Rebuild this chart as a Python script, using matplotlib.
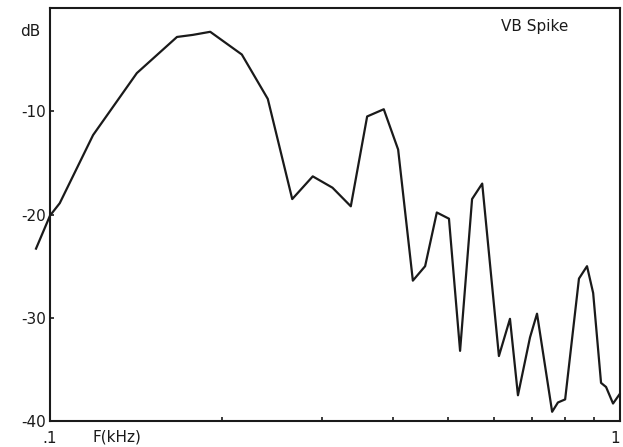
import matplotlib
matplotlib.use('Agg')
import matplotlib.pyplot as plt
from matplotlib.ticker import FixedLocator, NullFormatter

# spectrum (frequency in kHz, level in dB)
freq = [0.0945, 0.100, 0.104, 0.119, 0.142, 0.167, 0.178, 0.191, 0.217, 0.241,
        0.266, 0.289, 0.313, 0.337, 0.360, 0.385, 0.408, 0.433, 0.455, 0.477,
        0.501, 0.524, 0.550, 0.573, 0.613, 0.641, 0.662, 0.695, 0.715, 0.760,
        0.778, 0.801, 0.847, 0.875, 0.897, 0.926, 0.945, 0.972, 0.998]
level = [-23.3, -20.1, -18.9, -12.3, -6.3, -2.8, -2.6, -2.3, -4.5, -8.8,
         -18.5, -16.3, -17.4, -19.2, -10.5, -9.8, -13.7, -26.4, -25.0, -19.8,
         -20.4, -33.2, -18.5, -17.0, -33.7, -30.1, -37.5, -31.9, -29.6, -39.1,
         -38.2, -37.9, -26.2, -25.0, -27.6, -36.3, -36.7, -38.3, -37.4]

ytick_vals = [-40, -30, -20, -10]
ytick_labels = ['-40', '-30', '-20', '-10']
xtick_vals = [0.1, 1.0]
xtick_labels = ['.1', '1']
minor_x = [0.2, 0.3, 0.4, 0.5, 0.6, 0.7, 0.8, 0.9]

fig = plt.figure(figsize=(6.23, 4.47), dpi=100)
ax = fig.add_axes([0.0803, 0.058, 0.915, 0.924])

ax.plot(freq, level, color='#1a1a1a', lw=1.6, clip_on=False)

ax.set_xscale('log')
ax.set_xlim(0.1, 1.0)
ax.set_ylim(-40, 0)

ax.xaxis.set_major_locator(FixedLocator(xtick_vals))
ax.set_xticklabels(xtick_labels)
ax.xaxis.set_minor_locator(FixedLocator(minor_x))
ax.xaxis.set_minor_formatter(NullFormatter())
ax.set_yticks(ytick_vals)
ax.set_yticklabels(ytick_labels)

ax.tick_params(axis='both', which='both', direction='in', length=3, width=1.2,
               labelsize=11, colors='#1a1a1a')
ax.tick_params(axis='x', which='major', length=0, pad=7)
ax.tick_params(axis='y', pad=3)

# the "1" sits at the right edge of the page, keep it inside
ax.get_xticklabels()[-1].set_horizontalalignment('right')

for sp in ax.spines.values():
    sp.set_linewidth(1.5)
    sp.set_color('#1a1a1a')

# labels inside / around the frame
fig.text(20 / 623, 1 - 32 / 447, 'dB', fontsize=11, va='center', ha='left', color='#1a1a1a')
fig.text(92 / 623, 1 - 437 / 447, 'F(kHz)', fontsize=11, va='center', ha='left', color='#1a1a1a')
ax.text(0.91, 0.955, 'VB Spike', transform=ax.transAxes, fontsize=11,
        ha='right', va='center', color='#1a1a1a')

fig.savefig('out.png', dpi=100, facecolor='white')
